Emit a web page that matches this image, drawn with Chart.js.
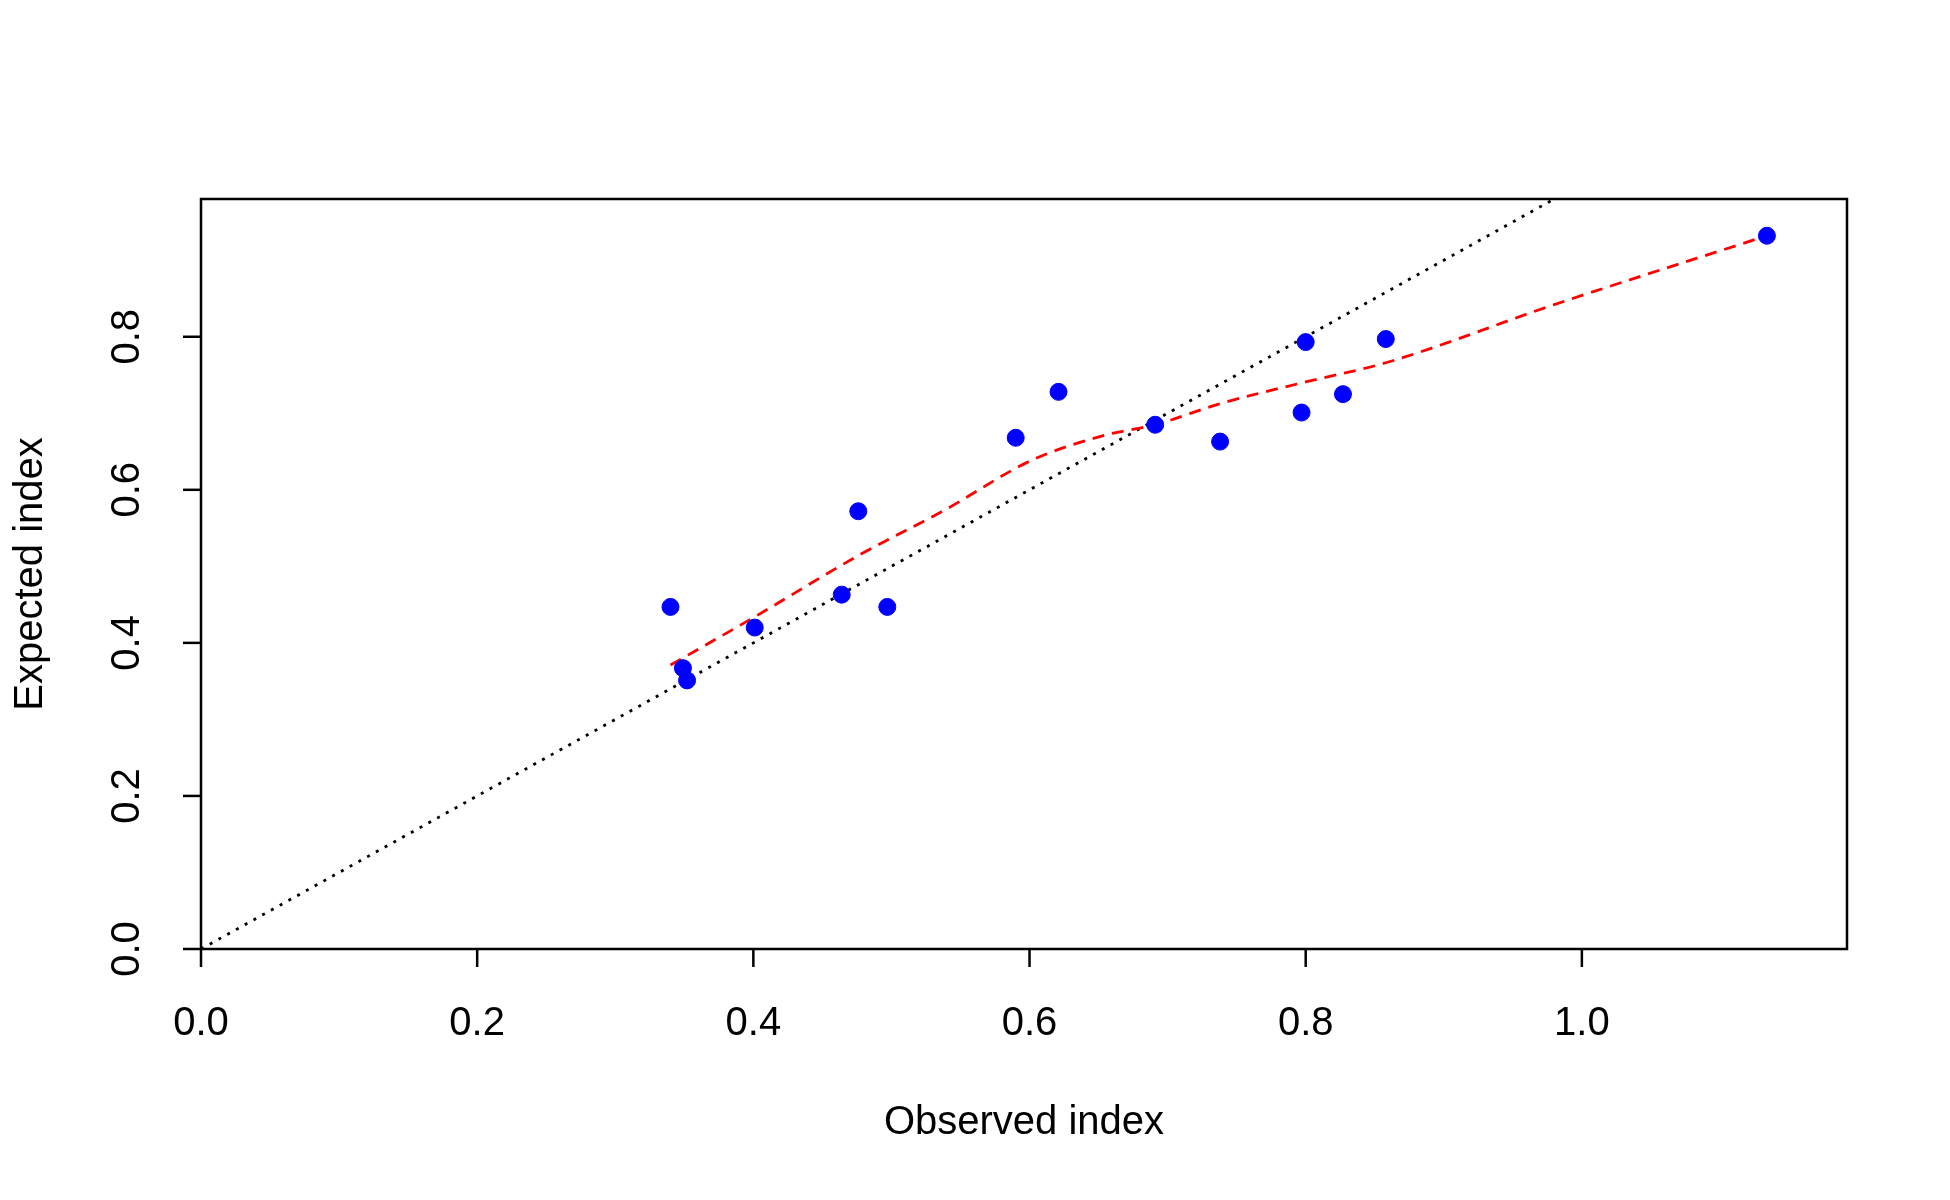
<!DOCTYPE html>
<html>
<head>
<script src="https://cdn.jsdelivr.net/npm/chart.js@4"></script>
<style>body{margin:0;background:#fff}</style>
</head>
<body>
<canvas id="c" width="1950" height="1200"></canvas>
<script>
const obsX = [0.340, 0.349, 0.352, 0.401, 0.464, 0.476, 0.497, 0.590, 0.621, 0.691, 0.738, 0.797, 0.800, 0.827, 0.858, 1.134];
const expY = [0.447, 0.367, 0.351, 0.420, 0.463, 0.572, 0.447, 0.668, 0.728, 0.685, 0.663, 0.701, 0.793, 0.725, 0.797, 0.932];
const smoothX = [0.340, 0.400, 0.476, 0.539, 0.602, 0.656, 0.691, 0.737, 0.800, 0.858, 0.980, 1.134];
const smoothY = [0.371, 0.433, 0.514, 0.574, 0.639, 0.672, 0.685, 0.712, 0.741, 0.766, 0.842, 0.932];
const xTicks = [0.0, 0.2, 0.4, 0.6, 0.8, 1.0];
const yTicks = [0.0, 0.2, 0.4, 0.6, 0.8];

const font = '40px "Liberation Sans", Arial, sans-serif';

const rStyle = {
    id: 'rStyle',
    afterDraw(chart) {
        const ctx = chart.ctx, a = chart.chartArea;
        const xs = chart.scales.x, ys = chart.scales.y;
        ctx.save();
        ctx.strokeStyle = '#000';
        ctx.lineWidth = 2.5;
        ctx.strokeRect(a.left, a.top, a.right - a.left, a.bottom - a.top);
        ctx.fillStyle = '#000';
        ctx.font = font;
        ctx.textAlign = 'center';
        ctx.textBaseline = 'middle';
        xTicks.forEach(v => {
            const px = xs.getPixelForValue(v);
            ctx.beginPath(); ctx.moveTo(px, a.bottom); ctx.lineTo(px, a.bottom + 18); ctx.stroke();
            ctx.fillText(v.toFixed(1), px, 1024);
        });
        yTicks.forEach(v => {
            const py = ys.getPixelForValue(v);
            ctx.beginPath(); ctx.moveTo(a.left, py); ctx.lineTo(a.left - 18, py); ctx.stroke();
            ctx.save(); ctx.translate(128, py); ctx.rotate(-Math.PI / 2);
            ctx.fillText(v.toFixed(1), 0, 0); ctx.restore();
        });
        ctx.fillText('Observed index', (a.left + a.right) / 2, 1123);
        ctx.save(); ctx.translate(31, (a.top + a.bottom) / 2); ctx.rotate(-Math.PI / 2);
        ctx.fillText('Expected index', 0, 0); ctx.restore();
        ctx.restore();
    }
};

new Chart(document.getElementById('c').getContext('2d'), {
    type: 'scatter',
    data: {
        datasets: [{
            data: obsX.map((x, i) => ({ x: x, y: expY[i] })),
            backgroundColor: '#0000ff',
            borderColor: '#0000ff',
            pointRadius: 8.5,
            order: 1
        }, {
            type: 'line',
            data: smoothX.map((x, i) => ({ x: x, y: smoothY[i] })),
            borderColor: '#ff0000',
            borderWidth: 2.8,
            borderDash: [12, 8],
            pointRadius: 0,
            cubicInterpolationMode: 'monotone',
            order: 2
        }, {
            type: 'line',
            data: [{ x: 0, y: 0 }, { x: 1.2, y: 1.2 }],
            borderColor: '#000',
            borderWidth: 2.8,
            borderDash: [3, 7],
            pointRadius: 0,
            order: 3
        }]
    },
    options: {
        responsive: false,
        devicePixelRatio: 1,
        animation: false,
        layout: { padding: { left: 0, top: 199, right: 103, bottom: 0 } },
        plugins: { legend: { display: false }, tooltip: { enabled: false } },
        scales: {
            x: {
                type: 'linear', min: 0, max: 1.192,
                grid: { display: false }, border: { display: false },
                ticks: { display: false },
                afterFit(s) { s.height = 251; }
            },
            y: {
                type: 'linear', min: 0, max: 0.98,
                grid: { display: false }, border: { display: false },
                ticks: { display: false },
                afterFit(s) { s.width = 201; }
            }
        }
    },
    plugins: [rStyle]
});
</script>
</body>
</html>
